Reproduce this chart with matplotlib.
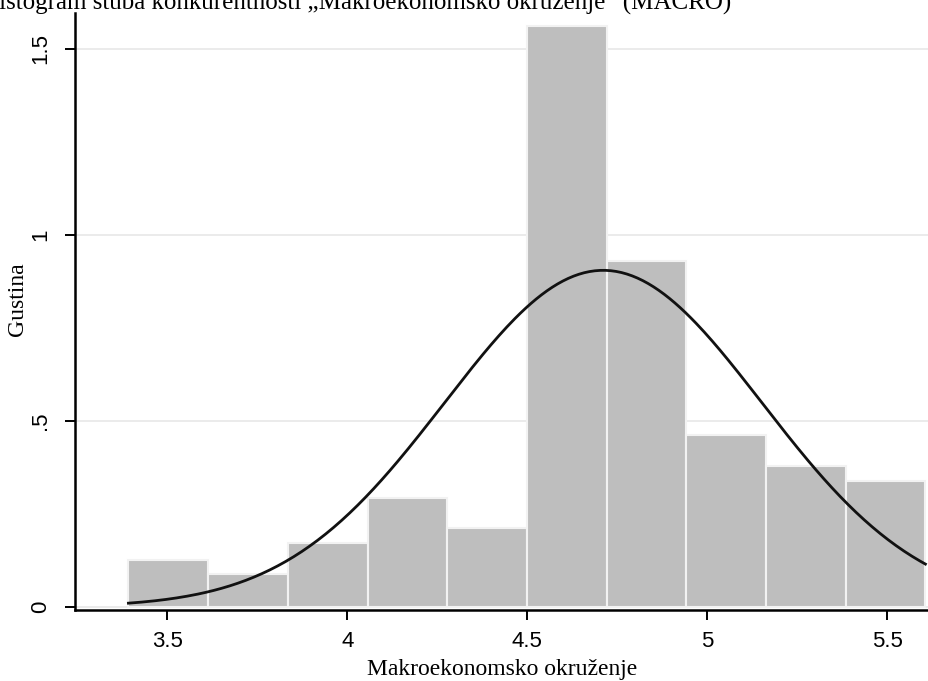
import numpy as np
import matplotlib.pyplot as plt

# histogram bins (density)
bin_start = 3.392
bin_width = 0.2214
densities = [0.126, 0.088, 0.171, 0.294, 0.211, 1.560, 0.929, 0.463, 0.379, 0.339]

# normal overlay parameters
mean = 4.711
sd = 0.441

title = "Histogram stuba konkurentnosti \u201eMakroekonomsko okru\u017eenje\u201c (MACRO)"
xlabel = "Makroekonomsko okru\u017eenje"
ylabel = "Gustina"
xticks = [3.5, 4, 4.5, 5, 5.5]
xticklabels = ["3.5", "4", "4.5", "5", "5.5"]
yticks = [0, 0.5, 1, 1.5]
yticklabels = ["0", ".5", "1", "1.5"]

serif = ["Liberation Serif", "DejaVu Serif"]
sans = ["Liberation Sans", "DejaVu Sans"]

fig = plt.figure(figsize=(9.29, 6.81), dpi=100)
ax = fig.add_axes([75 / 929, 71 / 681, 1 - 75 / 929, (681 - 71 - 13) / 681])

edges = bin_start + bin_width * np.arange(len(densities) + 1)
lefts = edges[:-1]
ax.bar(lefts, densities, width=bin_width, align="edge", color="#bebebe",
       edgecolor="#f2f2f2", linewidth=1.5, zorder=2)

xs = np.linspace(edges[0], edges[-1], 300)
ys = np.exp(-0.5 * ((xs - mean) / sd) ** 2) / (sd * np.sqrt(2 * np.pi))
ax.plot(xs, ys, color="#111111", linewidth=2.0, zorder=3)

ax.set_xlim(3.2436, 5.616)
ax.set_ylim(-0.008, 1.596)

ax.set_xticks(xticks)
ax.set_xticklabels(xticklabels, fontfamily=sans, fontsize=16)
ax.set_yticks(yticks)
ax.set_yticklabels(yticklabels, fontfamily=sans, fontsize=16, rotation=90, va="center")
ax.tick_params(axis="x", length=7, width=1.4, color="black", pad=8)
ax.tick_params(axis="y", length=7, width=1.4, color="black", pad=10)

ax.grid(axis="y", color="#e8e8e8", linewidth=1.2, zorder=0)
ax.set_axisbelow(True)

for s in ["top", "right"]:
    ax.spines[s].set_visible(False)
for s in ["left", "bottom"]:
    ax.spines[s].set_linewidth(1.8)
    ax.spines[s].set_color("black")

ax.set_xlabel(xlabel, fontfamily=serif, fontsize=17, labelpad=5)
ax.set_ylabel(ylabel, fontfamily=serif, fontsize=17)
ax.yaxis.set_label_coords(-47 / 854, 0.52)

fig.text(-19 / 929, 1 - 10 / 681, title, fontfamily=serif, fontsize=18,
         ha="left", va="baseline")

fig.savefig("out.png", dpi=100)
